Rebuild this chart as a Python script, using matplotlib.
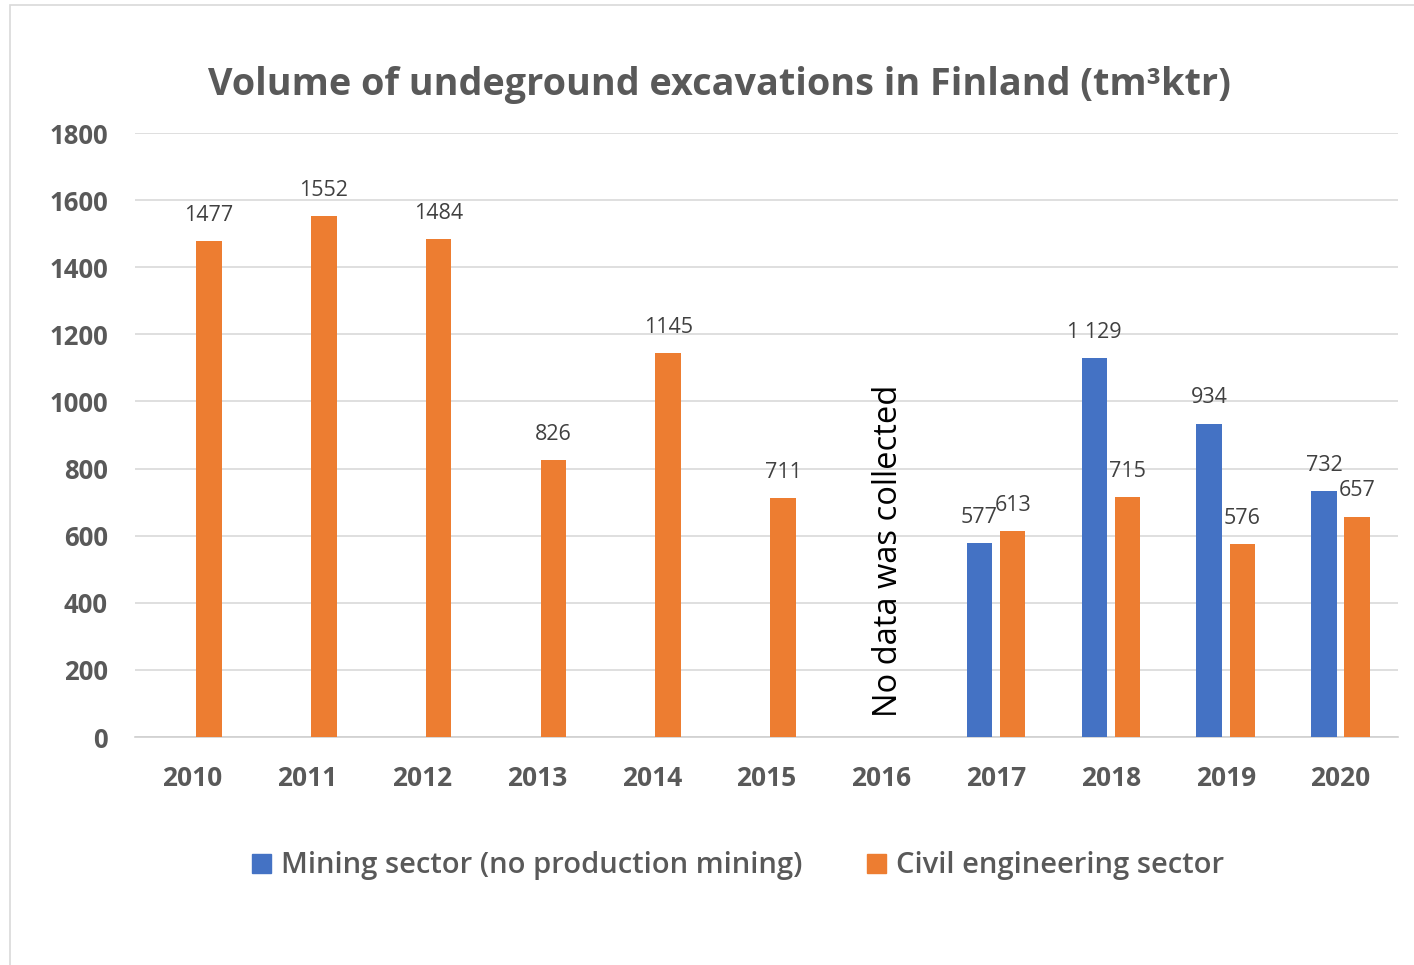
import numpy as np
import matplotlib
matplotlib.use("Agg")
import matplotlib.pyplot as plt
from matplotlib.patches import Rectangle, Patch

# data
years = ["2010", "2011", "2012", "2013", "2014", "2015", "2016", "2017", "2018", "2019", "2020"]
mining = [None, None, None, None, None, None, None, 577, 1129, 934, 732]
civil = [1477, 1552, 1484, 826, 1145, 711, None, 613, 715, 576, 657]
mining_labels = [None, None, None, None, None, None, None, "577", "1 129", "934", "732"]
civil_labels = ["1477", "1552", "1484", "826", "1145", "711", None, "613", "715", "576", "657"]
yticks = [0, 200, 400, 600, 800, 1000, 1200, 1400, 1600, 1800]

blue = "#4472C4"
orange = "#ED7D31"
grey_txt = "#595959"

plt.rcParams['font.family'] = ['Open Sans', 'DejaVu Sans']

fig = plt.figure(figsize=(14.14, 9.65), dpi=100)
ax = fig.add_axes([135/1414, 1-737/965, (1398-135)/1414, (737-133)/965])

x = np.arange(len(years))
w = 0.222
off = 0.144

def draw(values, labels, shift, color):
    idx = [i for i, v in enumerate(values) if v is not None]
    xs = x[idx] + shift
    hs = [values[i] for i in idx]
    ax.bar(xs, hs, width=w, color=color, zorder=3)
    for xi, i in zip(xs, idx):
        ax.annotate(labels[i], (xi, values[i]), xytext=(0, 18.5), textcoords="offset points",
                    ha="center", va="center", fontsize=15.5, color="#404040", zorder=4)

draw(mining, mining_labels, -off, blue)
draw(civil, civil_labels, off, orange)

ax.set_xlim(-0.5, len(years) - 0.5)
ax.set_ylim(0, 1800)
ax.set_yticks(yticks)
ax.set_xticks(x)
ax.set_xticklabels(years)
ax.grid(axis="y", color="#d9d9d9", linewidth=1.2, zorder=0)
ax.set_axisbelow(True)
for s in ["top", "right", "left"]:
    ax.spines[s].set_visible(False)
ax.spines["bottom"].set_color("#d0d0d0")
ax.spines["bottom"].set_linewidth(1.2)
ax.tick_params(length=0)
ax.tick_params(axis="y", pad=19.5, labelsize=18.5, labelcolor=grey_txt)
ax.tick_params(axis="x", pad=20, labelsize=19, labelcolor=grey_txt)
for t in ax.get_xticklabels() + ax.get_yticklabels():
    t.set_fontweight("bold")

ax.text(6.06, 60, "No data was collected", rotation=90, ha="center", va="bottom",
        fontsize=23.5, color="black", zorder=5)

fig.text(719/1414, 1-85/965, "Volume of undeground excavations in Finland (tm³ktr)",
         ha="center", va="center", fontsize=27.2, fontweight="bold", color=grey_txt)

handles = [Patch(color=blue, label="Mining sector (no production mining)"),
           Patch(color=orange, label="Civil engineering sector")]
fig.legend(handles=handles, loc="center", bbox_to_anchor=(738/1414, 1-866/965), ncol=2,
           frameon=False, prop={"size": 21, "weight": "semibold"}, labelcolor=grey_txt,
           handlelength=0.65, handleheight=0.65, handletextpad=0.35, columnspacing=2.2)

# light frame around the chart
fig.patches.append(Rectangle((10/1414, -0.05), 1.2, 1-5/965+0.05, transform=fig.transFigure,
                             fill=False, edgecolor="#d9d9d9", linewidth=1.2))

fig.savefig("out.png", dpi=100)
